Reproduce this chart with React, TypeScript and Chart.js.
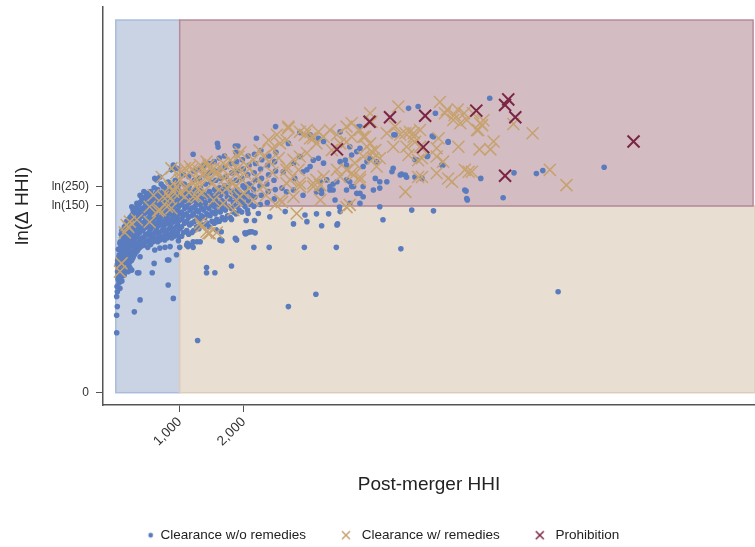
import React, { useEffect, useRef } from 'react';
import { Chart, registerables } from 'chart.js';

Chart.register(...registerables);

const FONT = "'Liberation Sans', Arial, sans-serif";

// Axis ticks
const xTickValues = [1000, 2000];
const yTickValues = [0, Math.log(150), Math.log(250)];
const yTickLabels = ['0', 'ln(150)', 'ln(250)'];

// Background regions (data units)
const lowHHIRange = [0, 1000];
const highHHIRange = [1000, 10000];
const prohibRegionRight = 9970;
const deltaThreshold = Math.log(150);
const regionTop = 10;

const legendNames = ['Clearance w/o remedies', 'Clearance w/ remedies', 'Prohibition'];

// Clearance without remedies: dense band, HHI below 1,000  [HHI, ln(ΔHHI)]
const blueLowBand: number[][] = [
  [20,2.85],[35,3.05],[28,3.25],[45,3.4],[30,3.55],[50,2.95],
  [60,3.2],[70,3.45],[55,3.7],[75,3.9],[65,2.8],[80,3.1],
  [95,3.0],[105,3.3],[90,3.55],[110,3.75],[100,3.95],[115,4.15],[95,4.35],
  [130,3.15],[145,3.4],[135,3.6],[150,3.8],[140,4.0],[155,4.2],[135,4.45],
  [175,3.35],[185,3.55],[170,3.75],[190,3.95],[180,4.15],[195,4.35],[175,4.55],
  [215,3.5],[230,3.7],[210,3.9],[235,4.1],[220,4.3],[240,4.5],[225,4.7],
  [260,3.6],[275,3.8],[255,4.0],[280,4.2],[265,4.4],[285,4.6],[270,4.8],
  [305,3.75],[320,3.95],[300,4.15],[325,4.35],[310,4.55],[330,4.75],[315,4.95],
  [350,3.85],[365,4.05],[345,4.25],[370,4.45],[355,4.65],[375,4.85],[360,5.05],
  [395,3.95],[410,4.15],[390,4.35],[415,4.55],[400,4.75],[420,4.95],[405,5.15],
  [440,4.0],[455,4.2],[435,4.4],[460,4.6],[445,4.8],[465,5.0],[450,5.2],[440,5.4],
  [490,4.05],[505,4.25],[485,4.45],[510,4.65],[495,4.85],[515,5.05],[500,5.25],
  [545,3.98],[560,4.18],[540,4.38],[565,4.58],[550,4.78],[570,4.98],[555,5.18],[545,5.4],
  [600,4.1],[615,4.3],[595,4.5],[620,4.7],[605,4.9],[625,5.1],[610,5.3],[600,5.5],
  [655,4.05],[670,4.25],[650,4.45],[675,4.65],[660,4.85],[680,5.05],[665,5.25],[655,5.45],
  [710,4.15],[725,4.35],[705,4.55],[730,4.75],[715,4.95],[735,5.15],[720,5.35],[710,5.6],
  [765,4.1],[780,4.3],[760,4.5],[785,4.7],[770,4.9],[790,5.1],[775,5.3],[765,5.5],
  [820,4.2],[835,4.4],[815,4.6],[840,4.8],[825,5.0],[845,5.2],[830,5.4],[820,5.65],
  [875,4.15],[890,4.35],[870,4.55],[895,4.75],[880,4.95],[900,5.15],[885,5.35],[875,5.55],
  [930,4.25],[945,4.45],[925,4.65],[950,4.85],[935,5.05],[955,5.25],[940,5.45],[930,5.7],
  [985,4.2],[1000,4.4],[980,4.6],[1005,4.8],[990,5.0],[1010,5.2],[995,5.4],[985,5.6]
];

// Clearance without remedies: further points inside the dense band, HHI below 1,000
const blueLowFill: number[][] = [
  [40,3.15],[25,3.45],[50,3.65],[40,3.85],[70,4.05],[85,4.25],[60,3.3],[85,3.6],[80,3.8],
  [120,3.2],[125,3.45],[120,3.65],[125,3.85],[120,4.05],[125,4.25],
  [160,3.25],[165,3.5],[160,3.7],[165,3.9],[160,4.1],[165,4.3],[160,4.5],
  [200,3.45],[205,3.65],[200,3.85],[205,4.05],[200,4.25],[205,4.45],[200,4.65],
  [245,3.55],[250,3.75],[245,3.95],[250,4.15],[245,4.35],[250,4.55],[245,4.75],
  [290,3.7],[290,3.9],[285,4.1],[290,4.3],[285,4.5],[290,4.7],[290,4.9],
  [335,3.8],[335,4.0],[330,4.2],[335,4.4],[330,4.6],[335,4.8],[335,5.0],
  [380,3.9],[380,4.1],[375,4.3],[380,4.5],[375,4.7],[380,4.9],[380,5.1],
  [425,3.95],[425,4.15],[420,4.35],[425,4.55],[420,4.75],[425,4.95],[425,5.15],
  [470,4.05],[470,4.25],[465,4.45],[470,4.65],[465,4.85],[470,5.05],[470,5.25],
  [520,4.1],[520,4.3],[515,4.5],[520,4.7],[515,4.9],[520,5.1],[520,5.3],
  [580,4.05],[580,4.25],[575,4.45],[580,4.65],[575,4.85],[580,5.05],[580,5.25],
  [635,4.15],[635,4.35],[630,4.55],[635,4.75],[630,4.95],[635,5.15],[635,5.35],
  [690,4.1],[690,4.3],[685,4.5],[690,4.7],[685,4.9],[690,5.1],[690,5.3],
  [745,4.2],[745,4.4],[740,4.6],[745,4.8],[740,5.0],[745,5.2],[745,5.4],
  [800,4.15],[800,4.35],[795,4.55],[800,4.75],[795,4.95],[800,5.15],[800,5.35],
  [855,4.25],[855,4.45],[850,4.65],[855,4.85],[850,5.05],[855,5.25],[855,5.45],
  [910,4.2],[910,4.4],[905,4.6],[910,4.8],[905,5.0],[910,5.2],[910,5.4],
  [965,4.3],[965,4.5],[960,4.7],[965,4.9],[960,5.1],[965,5.3],[965,5.5]
];

// Clearance without remedies: band, HHI 1,000 - 2,500
const blueMidBand: number[][] = [
  [1060,4.3],[1075,4.55],[1055,4.75],[1080,4.95],[1065,5.15],[1085,5.35],[1070,5.6],[1060,5.85],
  [1140,4.25],[1155,4.5],[1135,4.7],[1160,4.9],[1145,5.1],[1165,5.3],[1150,5.55],[1140,5.8],
  [1220,4.35],[1235,4.6],[1215,4.8],[1240,5.0],[1225,5.2],[1245,5.45],[1230,5.7],[1220,5.95],
  [1300,4.4],[1315,4.65],[1295,4.85],[1320,5.05],[1305,5.25],[1325,5.5],[1310,5.75],[1300,6.0],
  [1380,4.5],[1395,4.7],[1375,4.9],[1400,5.1],[1385,5.35],[1405,5.6],[1390,5.85],[1380,6.1],
  [1460,4.45],[1475,4.75],[1455,4.95],[1480,5.15],[1465,5.4],[1485,5.65],[1470,5.9],[1460,6.15],
  [1540,4.55],[1555,4.8],[1535,5.0],[1560,5.2],[1545,5.45],[1565,5.7],[1550,5.95],[1540,6.2],
  [1620,4.6],[1635,4.85],[1615,5.05],[1640,5.3],[1625,5.5],[1645,5.75],[1630,6.0],[1620,6.3],
  [1700,4.65],[1715,4.9],[1695,5.1],[1720,5.35],[1705,5.55],[1725,5.8],[1710,6.05],[1700,6.35],
  [1790,4.7],[1805,4.95],[1785,5.2],[1810,5.4],[1795,5.65],[1815,5.9],[1800,6.15],
  [1880,4.8],[1895,5.0],[1875,5.25],[1900,5.45],[1885,5.7],[1905,5.95],[1890,6.2],[1880,6.45],
  [1970,4.85],[1985,5.1],[1965,5.3],[1990,5.55],[1975,5.75],[1995,6.0],[1980,6.25],
  [2060,4.9],[2075,5.15],[2055,5.4],[2080,5.6],[2065,5.85],[2085,6.1],[2070,6.35],
  [2160,5.0],[2175,5.25],[2155,5.45],[2180,5.7],[2165,5.9],[2185,6.15],[2170,6.4],
  [2260,5.05],[2275,5.3],[2255,5.55],[2280,5.75],[2265,6.0],[2285,6.25],[2270,6.5],
  [2370,5.1],[2385,5.4],[2365,5.6],[2390,5.85],[2375,6.1],[2395,6.35],
  [2480,5.2],[2495,5.45],[2475,5.7],[2500,5.95],[2485,6.2],[2505,6.45]
];

// Clearance without remedies: further points in the lower part of the 1,000 - 2,200 band
const blueMidFill: number[][] = [
  [1030,4.2],[1030,4.45],[1035,4.65],[1030,4.85],[1035,5.05],[1030,5.3],
  [1110,4.35],[1110,4.6],[1105,4.8],[1110,5.0],[1105,5.2],[1110,5.45],
  [1190,4.3],[1190,4.55],[1185,4.75],[1190,4.95],[1185,5.15],[1190,5.4],
  [1265,4.45],[1265,4.7],[1260,4.9],[1265,5.1],[1260,5.3],
  [1345,4.5],[1345,4.75],[1340,4.95],[1345,5.2],[1340,5.4],
  [1425,4.55],[1425,4.8],[1420,5.0],[1425,5.25],
  [1505,4.6],[1505,4.85],[1500,5.05],[1505,5.3],
  [1580,4.65],[1580,4.9],[1575,5.1],[1580,5.35],
  [1665,4.7],[1665,4.95],[1660,5.15],[1665,5.4],
  [1750,4.75],[1750,5.0],[1745,5.25],[1750,5.5],
  [1840,4.85],[1840,5.1],[1835,5.35],
  [1930,4.9],[1930,5.15],[1925,5.4],
  [2020,5.0],[2020,5.25],[2015,5.5],
  [2115,5.05],[2115,5.3],[2110,5.55]
];

// Clearance without remedies: scattered points
const blueScatter: number[][] = [
  [14,1.61],[14,2.08],[24,2.31],[14,2.58],[24,2.71],[50,3.11],[65,2.98],[290,2.17],[380,2.49],
  [820,2.89],[900,2.53],[1280,1.40],[340,3.22],[360,3.22],[380,3.65],[270,3.63],[570,3.22],
  [600,3.47],[810,3.56],[950,3.70],[830,3.56],[1420,3.36],[1420,3.22],[1550,3.22],[1810,3.40],
  [2700,2.31],[3130,2.64],[6920,2.71],[4460,3.86],[2160,3.90],[2400,3.90],[2950,3.90],[3450,3.90],
  [3470,4.53],[2780,4.53],[2990,4.59],[4180,4.64],[4630,4.90],[4970,4.88],[170,3.38],[220,3.36],
  [195,3.25],[250,3.29],[90,3.65],[140,3.83],[120,3.96],[500,3.90],[610,3.83],[690,3.88],
  [770,3.90],[850,3.92],[1000,3.90],[1120,4.01],[1210,3.90],[1210,4.05],[980,4.08],[1110,3.96],
  [1190,3.96],[1270,4.05],[1570,4.37],[1650,4.32],[1630,4.10],[1660,4.08],[1870,4.14],[2030,4.26],
  [2070,4.30],[2130,4.32],[1890,4.10],[2020,4.29],[2100,4.32],[2180,4.29],[2040,4.62],[2170,4.62],
  [2410,4.72],[2230,4.81],[2070,4.81],[2650,4.86],[3140,4.80],[2960,4.77],[3330,4.80],[3460,4.50],
  [3220,4.48],[3500,4.98],[3510,4.86],[3660,5.08],[4130,5.49],[3720,5.53],[3870,5.26],[3820,5.35],
  [3460,5.66],[3400,5.60],[3220,5.44],[3350,5.44],[1810,4.65],[1710,4.65],[1580,4.59],[1640,4.10],
  [1320,4.05],[1130,3.92],
  [1210,6.40],[1590,6.69],[1600,6.59],[1870,6.62],[1910,6.62],[2200,6.83],[2500,7.14],[2880,6.98],
  [3040,6.92],[3170,6.83],[3510,7.00],[3820,7.14],[4580,7.63],[4730,7.68],[4350,6.92],[4320,5.93],
  [4340,6.02],[4450,5.84],[4530,5.84],[5000,7.50],[5850,7.90],[4950,6.89],[5200,6.72],[4880,6.35],
  [4680,6.26],[5120,6.11],[4470,5.87],[4550,5.78],[4680,5.79],[4790,5.75],[5710,5.75],[5480,5.41],
  [5500,5.17],[6060,5.23],[6230,5.90],[6580,5.88],[6680,5.96],[7640,6.05],[610,5.75],[690,5.79],
  [870,5.98],[950,6.02],[380,5.30],[250,4.99],[270,4.90],[900,6.11],[640,5.71],[740,5.53],
  [480,5.35],[400,5.26],[330,5.08],[170,4.59],[120,4.28],[65,4.01],[3800,7.14],[3070,6.83],
  [3250,6.74],[2700,6.69],[4370,6.92],[3660,6.60],[3770,6.47],[3820,6.56],[3690,6.38],[3590,6.24],
  [3510,6.20],[3610,6.11],[4970,6.87],[4870,6.34],[4710,6.24],[5100,6.11],[4080,6.20],[3980,6.29],
  [3870,6.07],[3930,6.20],[4060,5.75],[4130,5.66],[4240,5.66],[3870,5.53],[4030,5.44],[3610,5.71],
  [3660,5.66],[3690,5.53],[3610,5.44],[3770,5.35],[3350,5.53],[3400,5.44],[3300,5.71],[3200,5.66],
  [2990,5.98],[2930,5.93],[3040,6.07],[3090,6.24],[3170,6.29],[3250,6.16],[2880,6.34],[2780,6.16],
  [2800,5.75],[2620,5.93],[2600,5.49],[2670,5.39],[2780,5.44],[2930,5.30],[3140,5.39],[3220,5.35],
  [3430,5.17],[3820,5.08],[4130,4.99],[5460,5.44],[5490,5.21],[5200,6.74]
];

// Clearance with remedies
const tanLow: number[][] = [
  [65,3.25],[90,3.47],[140,4.3],[195,4.45],[170,4.5],[220,4.59],[330,4.64],[530,4.58],[590,5.3],
  [530,4.99],[660,4.88],[690,4.9],[800,4.99],[870,4.95],[740,5.26],[820,5.3],[900,5.39],[850,5.21],
  [1000,5.35],[850,5.53],[720,5.79],[1000,5.71],[950,5.53],[870,6.02],[950,5.89],[1030,5.93],
  [1080,6.02],[1160,6.07],[1190,5.98],[1190,5.66],[1080,5.26],[1080,5.49],[1210,5.26],[1270,5.26],
  [1320,5.53],[1270,5.71],[1320,6.11],[1400,5.89],[1420,6.20],[1420,5.79],[1470,6.02],[1530,6.02],
  [1550,5.89],[1580,5.89],[1680,6.16],[1680,5.98],[1790,6.24],[1840,5.98],[1790,5.71],[1870,5.53],
  [1740,5.49],[1840,5.62],[1940,5.26],[1840,4.90],[1920,6.34],[2020,5.89],[2150,6.25],[2310,6.34],
  [2390,6.78],[2520,6.92],[2570,6.69],[2670,6.78],[1420,4.32],[1580,4.30],[1340,4.46],[1450,4.28],
  [1320,4.55],[1470,4.28],[1530,5.17],[1680,5.08],[1890,5.17],[2000,5.35],[2150,5.17],[2570,5.17],
  [2600,5.12],[1100,5.45],[1250,5.55],[1350,5.35],[1500,5.6],[1620,5.45],[1700,5.75],[1450,6.1],
  [1300,5.95],[1900,6.0],[2050,6.1],[2200,5.8],[2300,5.55],[2450,5.9],[2400,6.2],[2550,6.3],
  [2250,6.5],[2100,5.5],[1980,5.7],[2350,5.3],[2500,5.05],[1950,6.45],[2450,6.55]
];

const tanMid: number[][] = [
  [2700,7.10],[2880,7.00],[2990,7.05],[3090,6.83],[3170,7.00],[2700,7.14],[2960,6.92],[3040,6.83],
  [3140,6.69],[3250,6.87],[3350,7.05],[3460,6.92],[3610,7.14],[3690,7.23],[3820,7.05],[3900,6.87],
  [3980,6.69],[4060,6.51],[4130,6.29],[3870,6.34],[3740,6.16],[3610,5.98],[3510,5.80],[3690,5.89],
  [3820,5.71],[3250,5.80],[3140,5.71],[3090,5.53],[2880,5.62],[2730,5.71],[2860,5.98],[2670,6.07],
  [2670,5.98],[2780,6.25],[2880,6.34],[2990,6.43],[2670,5.62],[2880,5.53],[3090,5.62],[3200,5.57],
  [2780,5.26],[3200,5.17],[2830,4.81],[3380,6.51],[3510,6.69],[3610,6.73],[3690,6.87],[3870,6.87],
  [3930,6.60],[4000,6.47],[4030,6.29],[4080,6.07],[3460,5.98],[3720,5.84],[3820,5.79],[3610,4.98],
  [3660,5.04],[4240,6.96],[4340,6.60],[4450,6.92],[4600,7.00],[4680,6.73],[4760,7.05],[4370,7.14],
  [4420,7.68],[3980,7.50],[4000,7.27],[4530,6.96],[4660,6.87],[4550,6.60],[4760,6.60],[4530,5.39],
  [4730,5.79],[4790,6.29]
];

const tanHigh: number[][] = [
  [5070,7.80],[5180,7.59],[5150,7.50],[5280,7.32],[5390,7.23],[5300,7.45],[5350,7.60],[5450,7.50],
  [5490,7.32],[5590,7.50],[5650,7.05],[5700,7.23],[5750,7.31],[5730,7.18],[6220,7.21],[6520,6.96],
  [5910,6.74],[5860,6.53],[5690,6.53],[5360,6.60],[5020,6.56],[5050,6.83],[5020,6.34],[5120,6.20],
  [4730,6.24],[4580,6.38],[5460,5.98],[5520,5.93],[5570,5.93],[5260,5.66],[5200,5.75],[5020,5.89],
  [4790,5.79],[6790,5.98],[7050,5.57],[4660,6.96],[5670,7.05]
];

// Prohibition
const prohibition: number[][] = [
  [3460,6.53],[3970,7.27],[4290,7.39],[4840,7.43],[4810,6.59],[5640,7.57],
  [6090,7.72],[6140,7.87],[6250,7.39],[6090,5.82],[8100,6.74]
];

const BLUE = '#5a7cbe';
const TAN = '#c6a26f';
const RED = '#7b2545';

const toPoints = (arr: number[][]) => arr.map(([x, y]) => ({ x, y }));

function makeMarker(kind: 'dot' | 'cross', color: string): HTMLCanvasElement {
  const c = document.createElement('canvas');
  const g0 = c.getContext('2d');
  if (kind === 'dot') {
    // wider canvas so the small dot sits closer to its label, as in the original legend
    c.width = 24;
    c.height = 12;
    const g = c.getContext('2d')!;
    g.fillStyle = color;
    g.beginPath();
    g.arc(18, 6, 2.4, 0, Math.PI * 2);
    g.fill();
  } else {
    c.width = 12;
    c.height = 12;
    const g = c.getContext('2d')!;
    g.strokeStyle = color;
    g.lineWidth = 1.5;
    g.beginPath();
    g.moveTo(2, 2); g.lineTo(10, 10);
    g.moveTo(10, 2); g.lineTo(2, 10);
    g.stroke();
  }
  void g0;
  return c;
}

const regionsPlugin = {
  id: 'regions',
  beforeDatasetsDraw(chart: any) {
    const { ctx, scales, chartArea } = chart;
    const xs = scales.x, ys = scales.y;
    const rect = (x0: number, x1: number, y0: number, y1: number, fill: string, stroke: string) => {
      const px0 = xs.getPixelForValue(x0);
      const px1 = xs.getPixelForValue(x1);
      const py0 = ys.getPixelForValue(y0);
      const py1 = ys.getPixelForValue(y1);
      ctx.fillStyle = fill;
      ctx.fillRect(px0, py1, px1 - px0, py0 - py1);
      ctx.strokeStyle = stroke;
      ctx.lineWidth = 1.5;
      ctx.strokeRect(px0, py1, px1 - px0, py0 - py1);
    };
    ctx.save();
    ctx.beginPath();
    ctx.rect(chartArea.left, chartArea.top, chartArea.right - chartArea.left, chartArea.bottom - chartArea.top);
    ctx.clip();
    rect(lowHHIRange[0], lowHHIRange[1], 0, regionTop, '#cad3e4', '#a9bcdc');
    rect(highHHIRange[0], highHHIRange[1], 0, deltaThreshold, '#e8dfd2', '#ddcdb8');
    rect(highHHIRange[0], prohibRegionRight, deltaThreshold, regionTop, '#d3bcc2', '#b58a9a');
    ctx.restore();
  }
};

export default function App() {
  const ref = useRef<HTMLCanvasElement | null>(null);

  useEffect(() => {
    document.body.style.margin = '0';
    const canvas = ref.current;
    if (!canvas) return;
    const markers = [makeMarker('dot', BLUE), makeMarker('cross', TAN), makeMarker('cross', RED)];

    const chart = new Chart(canvas, {
      type: 'scatter',
      data: {
        datasets: [
          {
            label: legendNames[0],
            data: toPoints([...blueLowBand, ...blueLowFill, ...blueMidBand, ...blueMidFill, ...blueScatter]),
            pointStyle: 'circle',
            pointRadius: 2.8,
            pointBorderWidth: 0,
            backgroundColor: BLUE,
            borderColor: BLUE,
            order: 3
          },
          {
            label: legendNames[1],
            data: toPoints([...tanLow, ...tanMid, ...tanHigh]),
            pointStyle: 'crossRot',
            pointRadius: 8.5,
            pointBorderWidth: 1.5,
            borderColor: TAN,
            backgroundColor: TAN,
            order: 2
          },
          {
            label: legendNames[2],
            data: toPoints(prohibition),
            pointStyle: 'crossRot',
            pointRadius: 8.5,
            pointBorderWidth: 2,
            borderColor: RED,
            backgroundColor: RED,
            order: 1
          }
        ]
      },
      options: {
        animation: false,
        responsive: false,
        devicePixelRatio: 1,
        layout: { autoPadding: false, padding: { top: 7, left: 0, right: 0, bottom: -5 } },
        plugins: {
          tooltip: { enabled: false },
          legend: {
            display: true,
            position: 'bottom',
            labels: {
              usePointStyle: true,
              pointStyleWidth: 18,
              padding: 31,
              color: '#222',
              font: { family: FONT, size: 13.5 },
              generateLabels: () =>
                legendNames.map((text, i) => ({
                  text,
                  pointStyle: markers[i] as any,
                  fillStyle: 'transparent',
                  strokeStyle: 'transparent',
                  lineWidth: 0,
                  hidden: false,
                  datasetIndex: i,
                  fontColor: '#222'
                }))
            }
          }
        },
        scales: {
          x: {
            type: 'linear',
            min: -200,
            max: 10000,
            afterBuildTicks: (s: any) => { s.ticks = xTickValues.map((v) => ({ value: v })); },
            afterFit: (s: any) => {
              s.height = 92.5;
              s.paddingLeft = 0;
              s.paddingRight = 0;
            },
            ticks: {
              autoSkip: false,
              minRotation: 45,
              maxRotation: 45,
              padding: 2,
              color: '#333',
              font: { family: FONT, size: 13.5 },
              callback: (v: any) => Number(v).toLocaleString('en-US')
            },
            grid: { display: true, drawOnChartArea: false, drawTicks: true, tickLength: 7, color: '#555', lineWidth: 1 },
            border: { display: true, color: '#555', width: 1.5 },
            title: {
              display: true,
              text: 'Post-merger HHI',
              color: '#222',
              font: { family: FONT, size: 19 },
              padding: { top: 0, bottom: 1 }
            }
          },
          y: {
            type: 'linear',
            min: -0.33,
            max: 10.35,
            afterBuildTicks: (s: any) => { s.ticks = yTickValues.map((v) => ({ value: v })); },
            afterFit: (s: any) => {
              s.width = 103;
              s.paddingTop = 0;
              s.paddingBottom = 0;
            },
            ticks: {
              autoSkip: false,
              padding: 7,
              color: '#333',
              font: { family: FONT, size: 12 },
              callback: (v: any) => {
                let best = 0;
                yTickValues.forEach((t, i) => {
                  if (Math.abs(t - v) < Math.abs(yTickValues[best] - v)) best = i;
                });
                return yTickLabels[best];
              }
            },
            grid: { display: true, drawOnChartArea: false, drawTicks: true, tickLength: 7, color: '#555', lineWidth: 1 },
            border: { display: true, color: '#555', width: 1.5 },
            title: {
              display: true,
              text: 'ln(Δ HHI)',
              color: '#222',
              font: { family: FONT, size: 19 },
              padding: { top: 11, bottom: 0 }
            }
          }
        }
      },
      plugins: [regionsPlugin]
    });

    return () => chart.destroy();
  }, []);

  return (
    <div style={{ width: 755, height: 547 }}>
      <canvas ref={ref} width={755} height={547} style={{ display: 'block' }} />
    </div>
  );
}
